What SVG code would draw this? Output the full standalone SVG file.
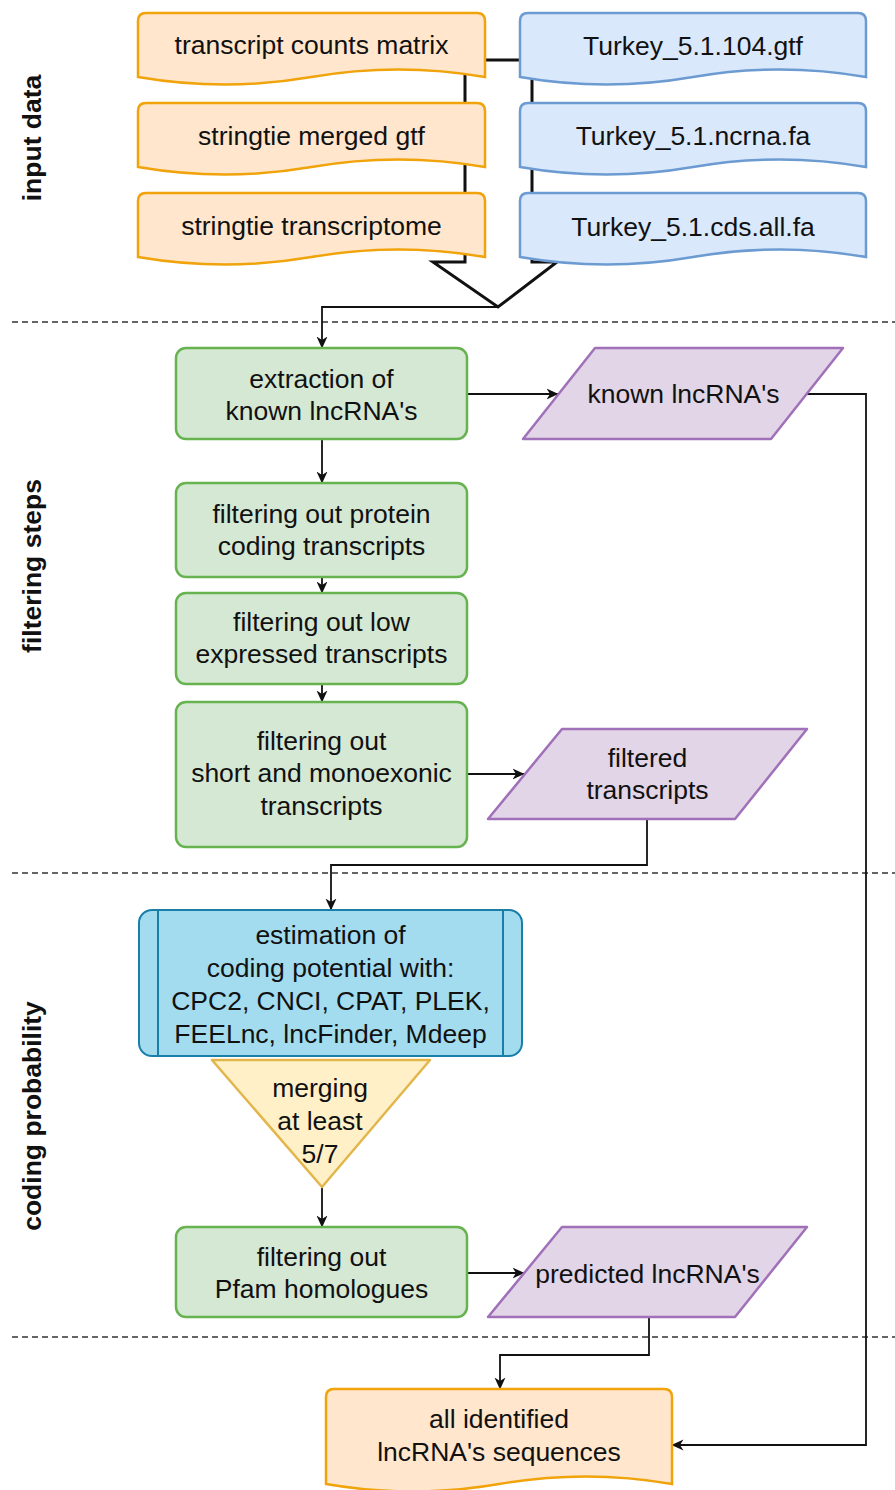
<svg xmlns="http://www.w3.org/2000/svg" width="895" height="1490" viewBox="0 0 895 1490">
<defs>
<style>
text{font-family:"Liberation Sans",Arial,Helvetica,sans-serif;font-size:26.5px;fill:#111;text-anchor:middle}
.lbl{font-weight:bold}
.orange{fill:#ffe6cc;stroke:#f0a30a;stroke-width:2.5}
.blue{fill:#dae8fc;stroke:#6c9bd2;stroke-width:2.5}
.green{fill:#d5e8d4;stroke:#66b34f;stroke-width:2.5}
.purple{fill:#e1d5e7;stroke:#a070b8;stroke-width:2.5;stroke-linejoin:round}
.proc{fill:#a3dcef;stroke:#1a7fa8;stroke-width:2}
.tri{fill:#fff0c8;stroke:#e2b64a;stroke-width:2.5;stroke-linejoin:round}
.dash{stroke:#333;stroke-width:1.5;stroke-dasharray:6 4;fill:none}
.edge{fill:none;stroke:#111;stroke-width:1.8}
</style>
<marker id="ah" viewBox="0 0 12 12" refX="11.5" refY="6" markerWidth="12" markerHeight="12" markerUnits="userSpaceOnUse" orient="auto">
<path d="M0,0.5 L12,6 L0,11.5 L3.5,6 Z" fill="#111"/>
</marker>
</defs>
<rect width="895" height="1490" fill="#fff"/>

<g id="separators">
<line class="dash" x1="12" y1="322" x2="895" y2="322"/>
<line class="dash" x1="12" y1="873" x2="895" y2="873"/>
<line class="dash" x1="12" y1="1337" x2="895" y2="1337"/>
</g>

<g id="section-labels">
<text class="lbl" transform="translate(41,138) rotate(-90)">input data</text>
<text class="lbl" transform="translate(41,566) rotate(-90)">filtering steps</text>
<text class="lbl" transform="translate(41,1116) rotate(-90)">coding probability</text>
</g>

<g id="merge-arrow">
<path d="M465,60 L465,262 L433,262 L498,307 L557,262 L532,262 L532,60 Z" fill="none" stroke="#111" stroke-width="3" stroke-linejoin="miter"/>
</g>

<g id="connectors">
<path class="edge" d="M498,307 L322,307 L322,348" marker-end="url(#ah)"/>
<path class="edge" d="M322,439 L322,483" marker-end="url(#ah)"/>
<path class="edge" d="M322,577 L322,593" marker-end="url(#ah)"/>
<path class="edge" d="M322,684 L322,702" marker-end="url(#ah)"/>
<path class="edge" d="M467,394 L558,394" marker-end="url(#ah)"/>
<path class="edge" d="M467,774 L524,774" marker-end="url(#ah)"/>
<path class="edge" d="M467,1273 L524,1273" marker-end="url(#ah)"/>
<path class="edge" d="M807,394 L866,394 L866,1445 L672,1445" marker-end="url(#ah)"/>
<path class="edge" d="M647,819 L647,865 L331,865 L331,910" marker-end="url(#ah)"/>
<path class="edge" d="M322,1187 L322,1227" marker-end="url(#ah)"/>
<path class="edge" d="M649,1317 L649,1355 L500,1355 L500,1389" marker-end="url(#ah)"/>
</g>

<g id="doc-counts">
<path class="orange" d="M138,77 L138,21 Q138,13 146,13 L477,13 Q485,13 485,21 L485,77 Q398,62 311.5,77 Q225,92 138,77 Z"/>
<text x="311.5" y="54">transcript counts matrix</text>
</g>
<g id="doc-merged-gtf">
<path class="orange" d="M138,167 L138,111 Q138,103 146,103 L477,103 Q485,103 485,111 L485,167 Q398,152 311.5,167 Q225,182 138,167 Z"/>
<text x="311.5" y="145">stringtie merged gtf</text>
</g>
<g id="doc-transcriptome">
<path class="orange" d="M138,257 L138,201 Q138,193 146,193 L477,193 Q485,193 485,201 L485,257 Q398,242 311.5,257 Q225,272 138,257 Z"/>
<text x="311.5" y="235">stringtie transcriptome</text>
</g>
<g id="doc-gtf">
<path class="blue" d="M520,77 L520,21 Q520,13 528,13 L858,13 Q866,13 866,21 L866,77 Q779.5,62 693,77 Q606.5,92 520,77 Z"/>
<text x="693" y="55">Turkey_5.1.104.gtf</text>
</g>
<g id="doc-ncrna">
<path class="blue" d="M520,167 L520,111 Q520,103 528,103 L858,103 Q866,103 866,111 L866,167 Q779.5,152 693,167 Q606.5,182 520,167 Z"/>
<text x="693" y="145">Turkey_5.1.ncrna.fa</text>
</g>
<g id="doc-cds">
<path class="blue" d="M520,257 L520,201 Q520,193 528,193 L858,193 Q866,193 866,201 L866,257 Q779.5,242 693,257 Q606.5,272 520,257 Z"/>
<text x="693" y="236">Turkey_5.1.cds.all.fa</text>
</g>

<g id="step-extraction">
<rect class="green" x="176" y="348" width="291" height="91" rx="10"/>
<text x="321.5" y="388">extraction of</text>
<text x="321.5" y="420">known lncRNA's</text>
</g>
<g id="out-known">
<polygon class="purple" points="523,439 595,348 843,348 771,439"/>
<text x="683.5" y="403">known lncRNA's</text>
</g>
<g id="step-protein">
<rect class="green" x="176" y="483" width="291" height="94" rx="10"/>
<text x="321.5" y="523">filtering out protein</text>
<text x="321.5" y="555">coding transcripts</text>
</g>
<g id="step-low">
<rect class="green" x="176" y="593" width="291" height="91" rx="10"/>
<text x="321.5" y="631">filtering out low</text>
<text x="321.5" y="663">expressed transcripts</text>
</g>
<g id="step-short">
<rect class="green" x="176" y="702" width="291" height="145" rx="10"/>
<text x="321.5" y="750">filtering out</text>
<text x="321.5" y="782">short and monoexonic</text>
<text x="321.5" y="815">transcripts</text>
</g>
<g id="out-filtered">
<polygon class="purple" points="488,819 562,729 807,729 735,819"/>
<text x="647.5" y="767">filtered</text>
<text x="647.5" y="799">transcripts</text>
</g>

<g id="step-coding">
<rect class="proc" x="139" y="910" width="383" height="146" rx="13"/>
<line x1="158" y1="910" x2="158" y2="1056" stroke="#1a7fa8" stroke-width="2"/>
<line x1="503" y1="910" x2="503" y2="1056" stroke="#1a7fa8" stroke-width="2"/>
<text x="330.5" y="944">estimation of</text>
<text x="330.5" y="977">coding potential with:</text>
<text x="330.5" y="1010">CPC2, CNCI, CPAT, PLEK,</text>
<text x="330.5" y="1043">FEELnc, lncFinder, Mdeep</text>
</g>
<g id="merge-step">
<polygon class="tri" points="212,1060 430,1060 322,1187"/>
<text x="320" y="1097">merging</text>
<text x="320" y="1130">at least</text>
<text x="320" y="1163">5/7</text>
</g>
<g id="step-pfam">
<rect class="green" x="176" y="1227" width="291" height="90" rx="10"/>
<text x="321.5" y="1266">filtering out</text>
<text x="321.5" y="1298">Pfam homologues</text>
</g>
<g id="out-predicted">
<polygon class="purple" points="488,1317 562,1227 807,1227 735,1317"/>
<text x="647.5" y="1283">predicted lncRNA's</text>
</g>

<g id="doc-all">
<path class="orange" d="M326,1484 L326,1397 Q326,1389 334,1389 L664,1389 Q672,1389 672,1397 L672,1484 Q585.5,1469 499,1484 Q412.5,1499 326,1484 Z"/>
<text x="499" y="1428">all identified</text>
<text x="499" y="1461">lncRNA's sequences</text>
</g>
</svg>
